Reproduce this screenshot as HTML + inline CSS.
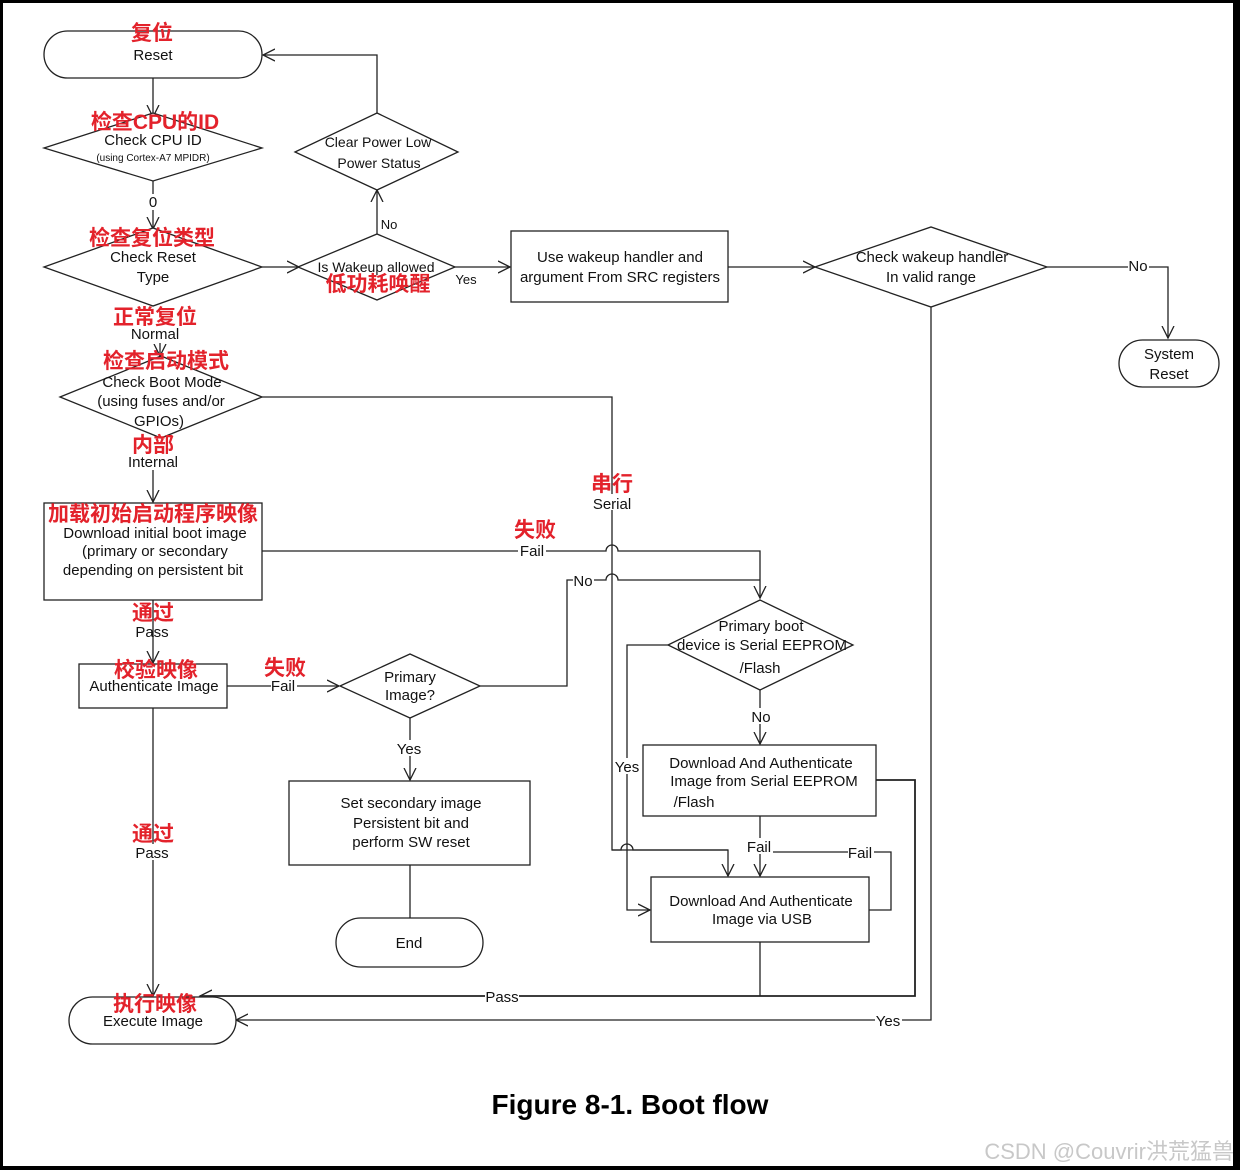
<!DOCTYPE html>
<html><head><meta charset="utf-8"><style>
html,body{margin:0;padding:0;background:#000}
svg{display:block}
.t{font-family:"Liberation Sans",sans-serif;font-size:15px;fill:#111;text-anchor:middle}
.s{font-size:10px}
.r{font-family:"Liberation Sans","Noto Sans CJK SC",sans-serif;font-size:21px;font-weight:bold;fill:#e3222b;text-anchor:middle}
.ln{fill:none;stroke:#222;stroke-width:1.3}
.sh{fill:#fff;stroke:#222;stroke-width:1.3}
.bg{fill:#fff;stroke:none}
</style></head><body>
<svg width="1240" height="1170" viewBox="0 0 1240 1170" xmlns="http://www.w3.org/2000/svg">
<defs><marker id="a" markerWidth="14" markerHeight="14" refX="12" refY="7" orient="auto" markerUnits="userSpaceOnUse"><path d="M0,1 L12,7 L0,13" fill="none" stroke="#222" stroke-width="1.3"/></marker></defs>
<rect x="3" y="3" width="1230" height="1163" fill="#fff"/>

<!-- connectors -->
<path class="ln" d="M153,78 V117" marker-end="url(#a)"/>
<path class="ln" d="M153,180 V229" marker-end="url(#a)"/>
<path class="ln" d="M262,267 H299" marker-end="url(#a)"/>
<path class="ln" d="M377,234 V190" marker-end="url(#a)"/>
<path class="ln" d="M377,113 V55 H263" marker-end="url(#a)"/>
<path class="ln" d="M455,267 H510" marker-end="url(#a)"/>
<path class="ln" d="M728,267 H815" marker-end="url(#a)"/>
<path class="ln" d="M1047,267 H1168 V338" marker-end="url(#a)"/>
<path class="ln" d="M931,307 V1020 H236" marker-end="url(#a)"/>
<path class="ln" d="M160,343 V356" marker-end="url(#a)"/>
<path class="ln" d="M262,397 H612 V850 H728 V876" marker-end="url(#a)"/>
<path class="ln" d="M153,470 V502" marker-end="url(#a)"/>
<path class="ln" d="M262,551 H606 a6,6 0 0 1 12,0 H760 V598" marker-end="url(#a)"/>
<path class="ln" d="M480,686 H567 V580 H606 a6,6 0 0 1 12,0 H760"/>
<path class="ln" d="M153,600 V663" marker-end="url(#a)"/>
<path class="ln" d="M227,686 H339" marker-end="url(#a)"/>
<path class="ln" d="M410,718 V780" marker-end="url(#a)"/>
<path class="ln" d="M410,865 V918"/>
<path class="ln" d="M153,708 V996" marker-end="url(#a)"/>
<path class="ln" d="M668,645 H627 V910 H650" marker-end="url(#a)"/>
<path class="ln" d="M612,850 H621 a6,6 0 0 1 12,0 H728" />
<path class="ln" d="M760,690 V744" marker-end="url(#a)"/>
<path class="ln" d="M876,780 H915 V996 H200" marker-end="url(#a)" style="stroke-width:1.8"/>
<path class="ln" d="M760,816 V876" marker-end="url(#a)"/>
<path class="ln" d="M869,910 H891 V852 H760"/>
<path class="ln" d="M760,942 V996"/>

<!-- shapes -->
<rect class="sh" x="44" y="31" width="218" height="47" rx="23.5"/>
<polygon class="sh" points="44,148 153,113 262,148 153,181"/>
<polygon class="sh" points="44,267 153,228 262,267 153,306"/>
<polygon class="sh" points="298,267 377,234 455,267 377,300"/>
<polygon class="sh" points="295,152 377,113 458,152 377,190"/>
<rect class="sh" x="511" y="231" width="217" height="71"/>
<polygon class="sh" points="815,267 931,227 1047,267 931,307"/>
<rect class="sh" x="1119" y="340" width="100" height="47" rx="23.5"/>
<polygon class="sh" points="60,397 161,356 262,397 161,438"/>
<rect class="sh" x="44" y="503" width="218" height="97"/>
<rect class="sh" x="79" y="664" width="148" height="44"/>
<polygon class="sh" points="340,686 410,654 480,686 410,718"/>
<rect class="sh" x="289" y="781" width="241" height="84"/>
<rect class="sh" x="336" y="918" width="147" height="49" rx="24.5"/>
<rect class="sh" x="69" y="997" width="167" height="47" rx="23.5"/>
<polygon class="sh" points="668,645 760,600 853,645 760,690"/>
<rect class="sh" x="643" y="745" width="233" height="71"/>
<rect class="sh" x="651" y="877" width="218" height="65"/>

<!-- label backgrounds -->
<rect class="bg" x="146" y="194" width="14" height="16"/>
<rect class="bg" x="380" y="216" width="22" height="16"/>
<rect class="bg" x="1128" y="258" width="21" height="16"/>
<rect class="bg" x="875" y="1012" width="27" height="16"/>
<rect class="bg" x="591" y="494" width="42" height="16"/>
<rect class="bg" x="518" y="543" width="28" height="16"/>
<rect class="bg" x="573" y="572" width="21" height="16"/>
<rect class="bg" x="271" y="678" width="26" height="16"/>
<rect class="bg" x="396" y="740" width="26" height="16"/>
<rect class="bg" x="614" y="758" width="26" height="16"/>
<rect class="bg" x="750" y="708" width="22" height="16"/>
<rect class="bg" x="747" y="838" width="26" height="16"/>
<rect class="bg" x="848" y="844" width="26" height="16"/>
<rect class="bg" x="485" y="988" width="34" height="16"/>
<rect class="bg" x="135" y="844" width="36" height="16"/>

<!-- text -->
<text class="t" x="153" y="60">Reset</text>
<text class="t" x="153" y="145">Check CPU ID</text>
<text class="t s" x="153" y="161">(using Cortex-A7 MPIDR)</text>
<text class="t" x="153" y="207">0</text>
<text class="t" x="153" y="262">Check Reset</text>
<text class="t" x="153" y="282">Type</text>
<text class="t" x="376" y="272" style="font-size:14px">Is Wakeup allowed</text>
<text class="t" x="378" y="147" style="font-size:14px">Clear Power Low</text>
<text class="t" x="379" y="168" style="font-size:14px">Power Status</text>
<text class="t" x="389" y="229" style="font-size:13px">No</text>
<text class="t" x="466" y="284" style="font-size:13px">Yes</text>
<text class="t" x="620" y="262">Use wakeup handler and</text>
<text class="t" x="620" y="282">argument From SRC registers</text>
<text class="t" x="932" y="262">Check wakeup handler</text>
<text class="t" x="931" y="282">In valid range</text>
<text class="t" x="1138" y="271">No</text>
<text class="t" x="1169" y="359">System</text>
<text class="t" x="1169" y="379">Reset</text>
<text class="t" x="155" y="339">Normal</text>
<text class="t" x="162" y="387">Check Boot Mode</text>
<text class="t" x="161" y="406">(using fuses and/or</text>
<text class="t" x="159" y="426">GPIOs)</text>
<text class="t" x="153" y="467">Internal</text>
<text class="t" x="612" y="509">Serial</text>
<text class="t" x="155" y="538">Download initial boot image</text>
<text class="t" x="155" y="556">(primary or secondary</text>
<text class="t" x="153" y="575">depending on persistent bit</text>
<text class="t" x="532" y="556">Fail</text>
<text class="t" x="583" y="586">No</text>
<text class="t" x="152" y="637">Pass</text>
<text class="t" x="154" y="691">Authenticate Image</text>
<text class="t" x="283" y="691">Fail</text>
<text class="t" x="410" y="682">Primary</text>
<text class="t" x="410" y="700">Image?</text>
<text class="t" x="409" y="754">Yes</text>
<text class="t" x="411" y="808">Set secondary image</text>
<text class="t" x="411" y="828">Persistent bit and</text>
<text class="t" x="411" y="847">perform SW reset</text>
<text class="t" x="409" y="948">End</text>
<text class="t" x="152" y="858">Pass</text>
<text class="t" x="153" y="1026">Execute Image</text>
<text class="t" x="761" y="631">Primary boot</text>
<text class="t" x="762" y="650">device is Serial EEPROM</text>
<text class="t" x="760" y="673">/Flash</text>
<text class="t" x="761" y="722">No</text>
<text class="t" x="627" y="772">Yes</text>
<text class="t" x="761" y="768">Download And Authenticate</text>
<text class="t" x="764" y="786">Image from Serial EEPROM</text>
<text class="t" x="694" y="807">/Flash</text>
<text class="t" x="759" y="852">Fail</text>
<text class="t" x="860" y="858">Fail</text>
<text class="t" x="761" y="906">Download And Authenticate</text>
<text class="t" x="762" y="924">Image via USB</text>
<text class="t" x="502" y="1002">Pass</text>
<text class="t" x="888" y="1026">Yes</text>

<!-- red annotations -->
<text class="r" x="152" y="40">复位</text>
<text class="r" x="155" y="129">检查CPU的ID</text>
<text class="r" x="152" y="245">检查复位类型</text>
<text class="r" x="378" y="291">低功耗唤醒</text>
<text class="r" x="155" y="324">正常复位</text>
<text class="r" x="166" y="368">检查启动模式</text>
<text class="r" x="153" y="452">内部</text>
<text class="r" x="612" y="491">串行</text>
<text class="r" x="153" y="521">加载初始启动程序映像</text>
<text class="r" x="535" y="537">失败</text>
<text class="r" x="153" y="620">通过</text>
<text class="r" x="156" y="677">校验映像</text>
<text class="r" x="285" y="675">失败</text>
<text class="r" x="153" y="841">通过</text>
<text class="r" x="155" y="1011">执行映像</text>

<text x="630" y="1114" style="font-family:'Liberation Sans',sans-serif;font-size:28px;font-weight:bold;fill:#000;text-anchor:middle">Figure 8-1. Boot flow</text>
<text x="1234" y="1159" style="font-family:'Liberation Sans','Noto Sans CJK SC',sans-serif;font-size:22px;fill:#c8c8c8;text-anchor:end">CSDN @Couvrir洪荒猛兽</text>
</svg>
</body></html>
